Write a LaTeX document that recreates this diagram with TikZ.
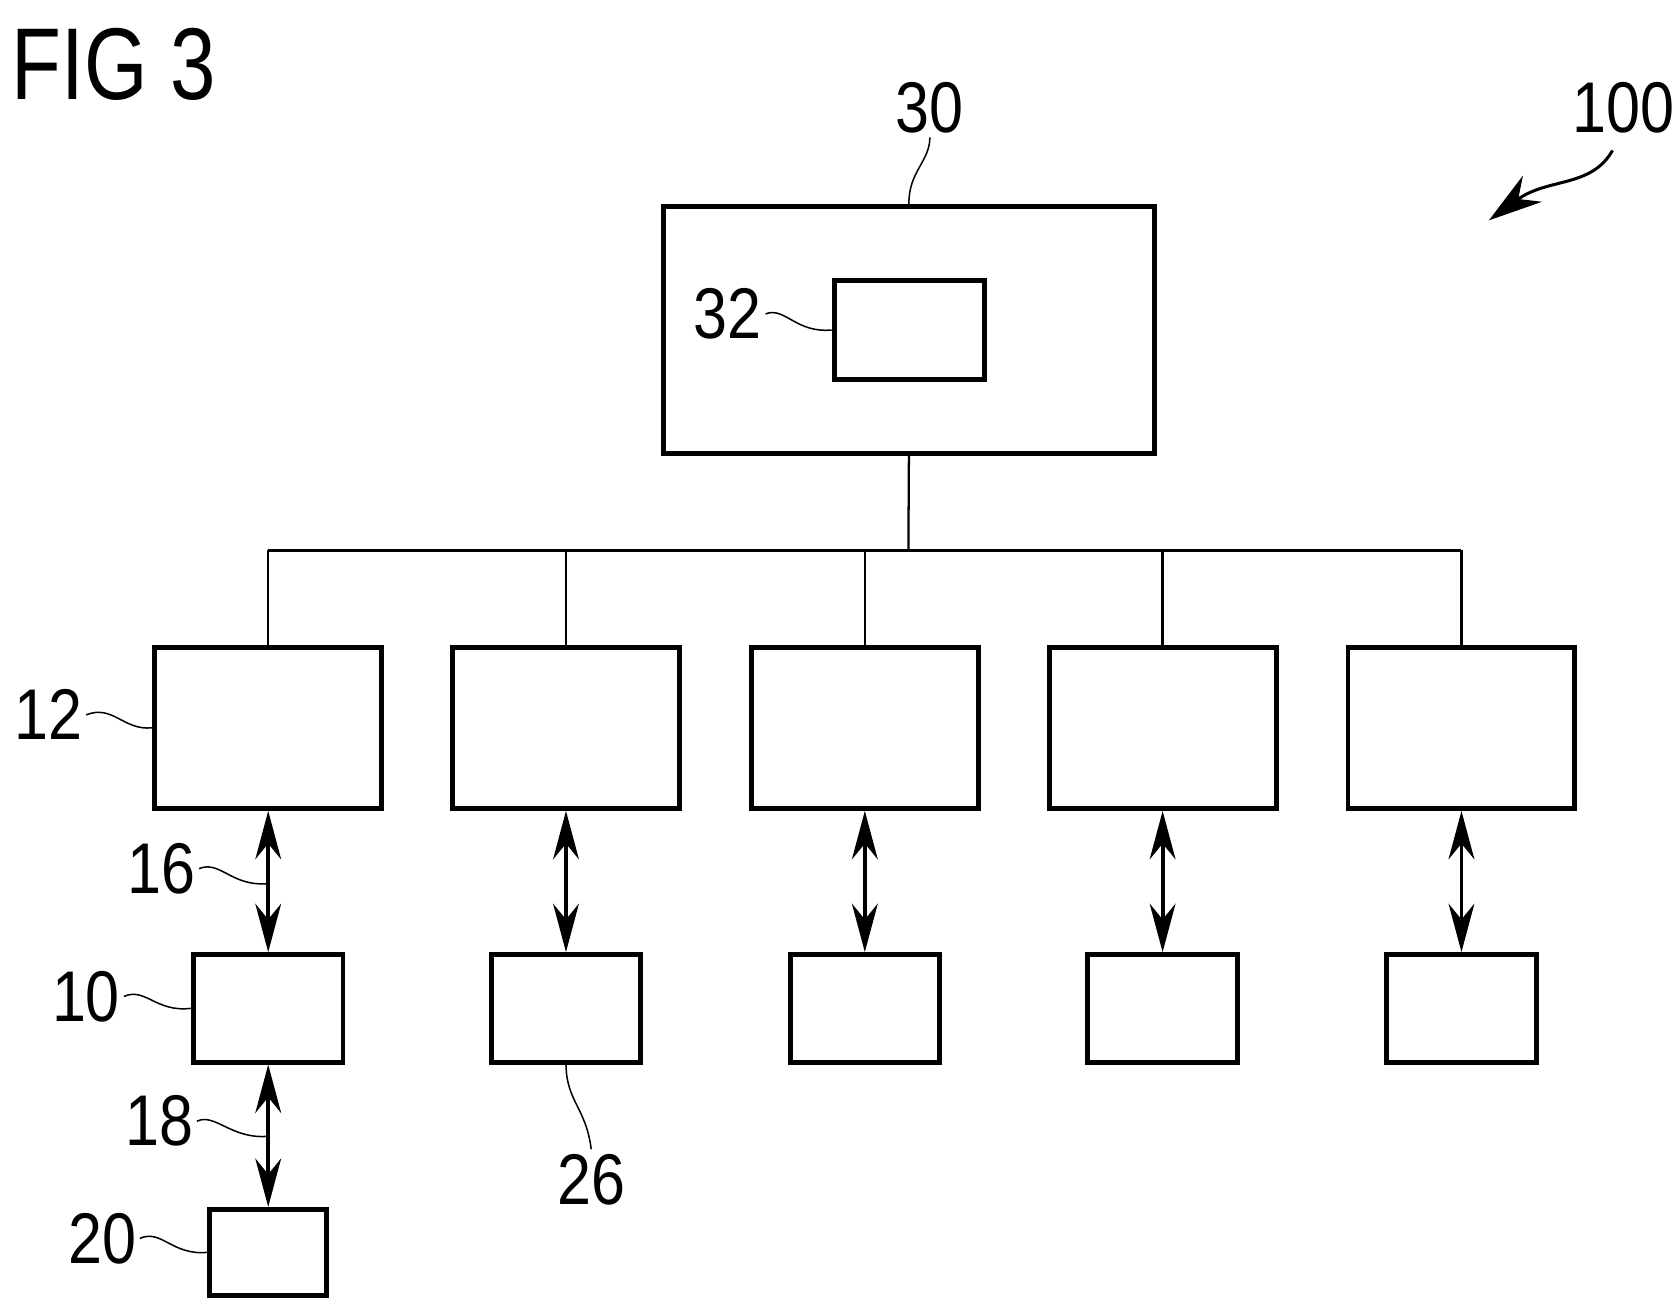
\documentclass[tikz,border=0pt]{standalone}
\usepackage{fontspec}
\setmainfont{Liberation Sans}
\usetikzlibrary{arrows.meta}
\tikzstyle{unit} = [rectangle, draw=black, line width=1.3pt, inner sep=0pt]
\tikzstyle{ref} = [font=\fontsize{19}{19}\selectfont, inner sep=1pt, xscale=0.85]
\tikzstyle{lead} = [thin]
\tikzstyle{link} = [line width=1pt, {Stealth[length=0.45cm,width=0.24cm]}-{Stealth[length=0.45cm,width=0.24cm]}]
\tikzstyle{bus} = [line width=0.6pt]
\begin{document}
\begin{tikzpicture}[x=0.01cm, y=-0.01cm]
\useasboundingbox (0,0) rectangle (1560,1219);

\node at (106,60) [font=\fontsize{27}{27}\selectfont, xscale=0.8] {FIG 3};

\node (30) [unit, minimum width=4.57cm, minimum height=2.30cm] at (845.5,307) {};
\node (32) [unit, minimum width=1.40cm, minimum height=0.92cm] at (846,307) {};
\node (l30) [ref] at (865,100) {30};
\node (l32) [ref] at (677,292) {32};
\node (l100) [ref] at (1510,100) {100};

\draw [lead] (30.north) .. controls (845,160) and (865,150) .. (l30.south);
\draw [lead] (l32.east) .. controls (730,285) and (740,310) .. (32.west);
\draw [line width=0.8pt, -{Stealth[length=0.5cm,width=0.3cm]}] (1500,140) .. controls (1480,175) and (1440,165) .. (1385,205);

% bus
\coordinate (top) at (845,512);
\draw [bus] (30.south) -- (top);
\draw [bus] (249.5,512) -- (1359.5,512);

\foreach \i/\x in {1/249.5, 2/526.5, 3/804.5, 4/1081.5, 5/1359.5} {
  \node (c\i) [unit, minimum width=2.11cm, minimum height=1.50cm] at (\x,677) {};
  \node (d\i) [unit, minimum width=1.39cm, minimum height=1.00cm] at (\x,938) {};
  \draw [bus] (c\i.north) -- (\x,512);
  \draw [link] (c\i.south) -- (d\i.north);
}

\node (20) [unit, minimum width=1.09cm, minimum height=0.80cm] at (249.5,1165) {};
\draw [link] (d1.south) -- (20.north);

% reference signs
\node (l12) [ref] at (45,665) {12};
\node (l16) [ref] at (150,808) {16};
\node (l10) [ref] at (80,927) {10};
\node (l18) [ref] at (148,1043) {18};
\node (l20) [ref] at (95,1152) {20};
\node (l26) [ref] at (550,1097) {26};

\draw [lead] (l12.east) .. controls (105,655) and (115,680) .. (c1.west);
\draw [lead] (l16.east) .. controls (205,800) and (215,825) .. (249.5,822);
\draw [lead] (l10.east) .. controls (135,918) and (145,942) .. (d1.west);
\draw [lead] (l18.east) .. controls (200,1035) and (215,1060) .. (249.5,1057);
\draw [lead] (l20.east) .. controls (150,1143) and (160,1168) .. (20.west);
\draw [lead] (d2.south) .. controls (527,1025) and (545,1030) .. (l26.north);

\end{tikzpicture}
\end{document}
